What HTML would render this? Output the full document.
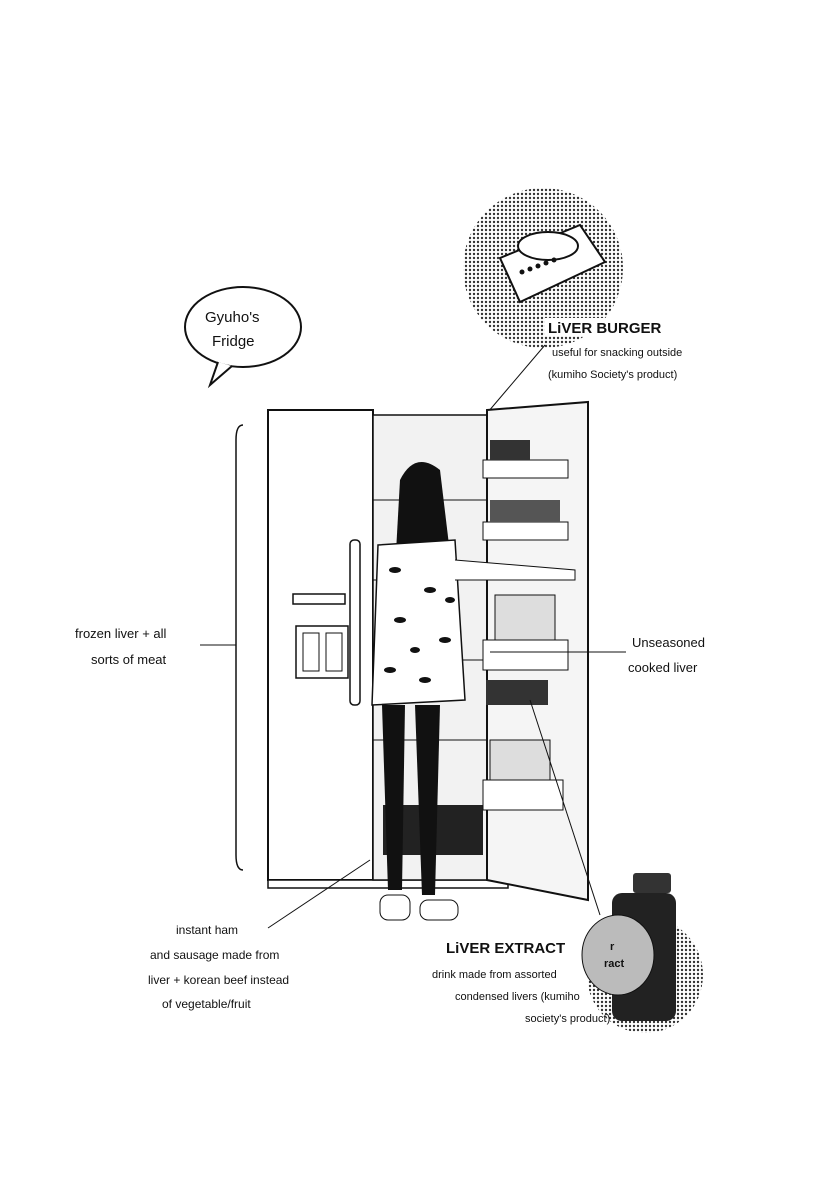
<!DOCTYPE html>
<html><head><meta charset="utf-8"><style>
html,body{margin:0;padding:0;background:#fff;}
svg{display:block}
text{font-family:"Liberation Sans",sans-serif;fill:#111}
</style></head><body>
<svg width="822" height="1200" viewBox="0 0 822 1200" xmlns="http://www.w3.org/2000/svg">
<defs>
<pattern id="dots" width="4" height="4" patternUnits="userSpaceOnUse"><circle cx="2" cy="2" r="1.2" fill="#333"/></pattern>
</defs>
<rect width="822" height="1200" fill="#fff"/>
<circle cx="543" cy="268" r="80" fill="url(#dots)"/>
<path d="M500 258 L580 225 L605 262 L520 302 Z" fill="#fff" stroke="#111" stroke-width="2"/>
<ellipse cx="548" cy="246" rx="30" ry="14" fill="#fff" stroke="#111" stroke-width="2"/>
<circle cx="522" cy="272" r="2.5" fill="#111"/><circle cx="530" cy="269" r="2.5" fill="#111"/><circle cx="538" cy="266" r="2.5" fill="#111"/><circle cx="546" cy="263" r="2.5" fill="#111"/><circle cx="554" cy="260" r="2.5" fill="#111"/>
<rect x="545" y="318" width="120" height="18" fill="#fff"/>
<text x="548" y="333" font-size="15" font-weight="bold">LiVER BURGER</text>
<text x="552" y="356" font-size="11">useful for snacking outside</text>
<text x="548" y="378" font-size="11">(kumiho Society's product)</text>
<line x1="545" y1="345" x2="488" y2="412" stroke="#111" stroke-width="1"/>
<ellipse cx="243" cy="327" rx="58" ry="40" fill="#fff" stroke="#111" stroke-width="2"/>
<path d="M218 362 L210 385 L232 366" fill="#fff" stroke="#111" stroke-width="2"/>
<text x="205" y="322" font-size="15">Gyuho's</text>
<text x="212" y="346" font-size="15">Fridge</text>
<path d="M243 425 Q236 425 236 440 L236 855 Q236 870 243 870" fill="none" stroke="#111" stroke-width="1.5"/>
<text x="75" y="638" font-size="13">frozen liver + all</text>
<text x="91" y="664" font-size="13">sorts of meat</text>
<line x1="200" y1="645" x2="236" y2="645" stroke="#111"/>
<rect x="268" y="410" width="105" height="470" fill="#fff" stroke="#111" stroke-width="2"/>
<rect x="268" y="880" width="240" height="8" fill="#fff" stroke="#111" stroke-width="1.5"/>
<rect x="350" y="540" width="10" height="165" rx="4" fill="#fff" stroke="#111" stroke-width="1.5"/>
<rect x="293" y="594" width="52" height="10" fill="#fff" stroke="#111" stroke-width="1.5"/>
<rect x="296" y="626" width="52" height="52" fill="#fff" stroke="#111" stroke-width="1.5"/>
<rect x="303" y="633" width="16" height="38" fill="#fff" stroke="#111"/><rect x="326" y="633" width="16" height="38" fill="#fff" stroke="#111"/>
<rect x="373" y="415" width="118" height="465" fill="#f2f2f2" stroke="#111" stroke-width="1.5"/>
<line x1="373" y1="500" x2="491" y2="500" stroke="#111"/>
<line x1="373" y1="580" x2="491" y2="580" stroke="#111"/>
<line x1="373" y1="660" x2="491" y2="660" stroke="#111"/>
<line x1="373" y1="740" x2="491" y2="740" stroke="#111"/>
<rect x="383" y="805" width="100" height="50" fill="#222"/>
<path d="M487 410 L588 402 L588 900 L487 880 Z" fill="#f5f5f5" stroke="#111" stroke-width="2"/>
<rect x="483" y="460" width="85" height="18" fill="#fff" stroke="#111"/>
<rect x="483" y="522" width="85" height="18" fill="#fff" stroke="#111"/>
<rect x="483" y="640" width="85" height="30" fill="#fff" stroke="#111"/>
<rect x="483" y="780" width="80" height="30" fill="#fff" stroke="#111"/>
<rect x="486" y="680" width="62" height="25" fill="#333"/>
<rect x="490" y="440" width="40" height="20" fill="#333"/>
<rect x="490" y="500" width="70" height="22" fill="#555"/>
<rect x="495" y="595" width="60" height="45" fill="#ddd" stroke="#111"/>
<rect x="490" y="740" width="60" height="40" fill="#ddd" stroke="#111"/>
<path d="M400 480 Q415 450 440 470 L452 570 L395 570 Z" fill="#111"/>
<path d="M378 545 L455 540 L465 700 L372 705 Z" fill="#fff" stroke="#111" stroke-width="1.5"/>
<g fill="#111"><ellipse cx="395" cy="570" rx="6" ry="3"/><ellipse cx="430" cy="590" rx="6" ry="3"/><ellipse cx="400" cy="620" rx="6" ry="3"/><ellipse cx="445" cy="640" rx="6" ry="3"/><ellipse cx="390" cy="670" rx="6" ry="3"/><ellipse cx="425" cy="680" rx="6" ry="3"/><ellipse cx="450" cy="600" rx="5" ry="3"/><ellipse cx="415" cy="650" rx="5" ry="3"/></g>
<path d="M455 560 L575 570 L575 580 L455 580" fill="#fff" stroke="#111"/>
<path d="M382 705 L405 705 L402 890 L388 890 Z" fill="#111"/>
<path d="M415 705 L440 705 L435 895 L422 895 Z" fill="#111"/>
<rect x="380" y="895" width="30" height="25" rx="8" fill="#fff" stroke="#111"/>
<rect x="420" y="900" width="38" height="20" rx="8" fill="#fff" stroke="#111"/>
<text x="632" y="647" font-size="13">Unseasoned</text>
<text x="628" y="672" font-size="13">cooked liver</text>
<line x1="490" y1="652" x2="626" y2="652" stroke="#111"/>
<text x="176" y="934" font-size="12">instant ham</text>
<text x="150" y="959" font-size="12">and sausage made from</text>
<text x="148" y="984" font-size="12">liver + korean beef instead</text>
<text x="162" y="1008" font-size="12">of vegetable/fruit</text>
<line x1="268" y1="928" x2="370" y2="860" stroke="#111"/>
<circle cx="645" cy="975" r="58" fill="url(#dots)"/>
<rect x="633" y="873" width="38" height="20" rx="3" fill="#333"/>
<rect x="612" y="893" width="64" height="128" rx="10" fill="#222"/>
<ellipse cx="618" cy="955" rx="36" ry="40" fill="#bbb" stroke="#111"/>
<text x="610" y="950" font-size="11" font-weight="bold">r</text>
<text x="604" y="967" font-size="11" font-weight="bold">ract</text>
<line x1="530" y1="700" x2="600" y2="915" stroke="#111"/>
<text x="446" y="953" font-size="15" font-weight="bold">LiVER EXTRACT</text>
<text x="432" y="978" font-size="11">drink made from assorted</text>
<text x="455" y="1000" font-size="11">condensed livers (kumiho</text>
<text x="525" y="1022" font-size="11">society's product)</text>
</svg>
</body></html>
